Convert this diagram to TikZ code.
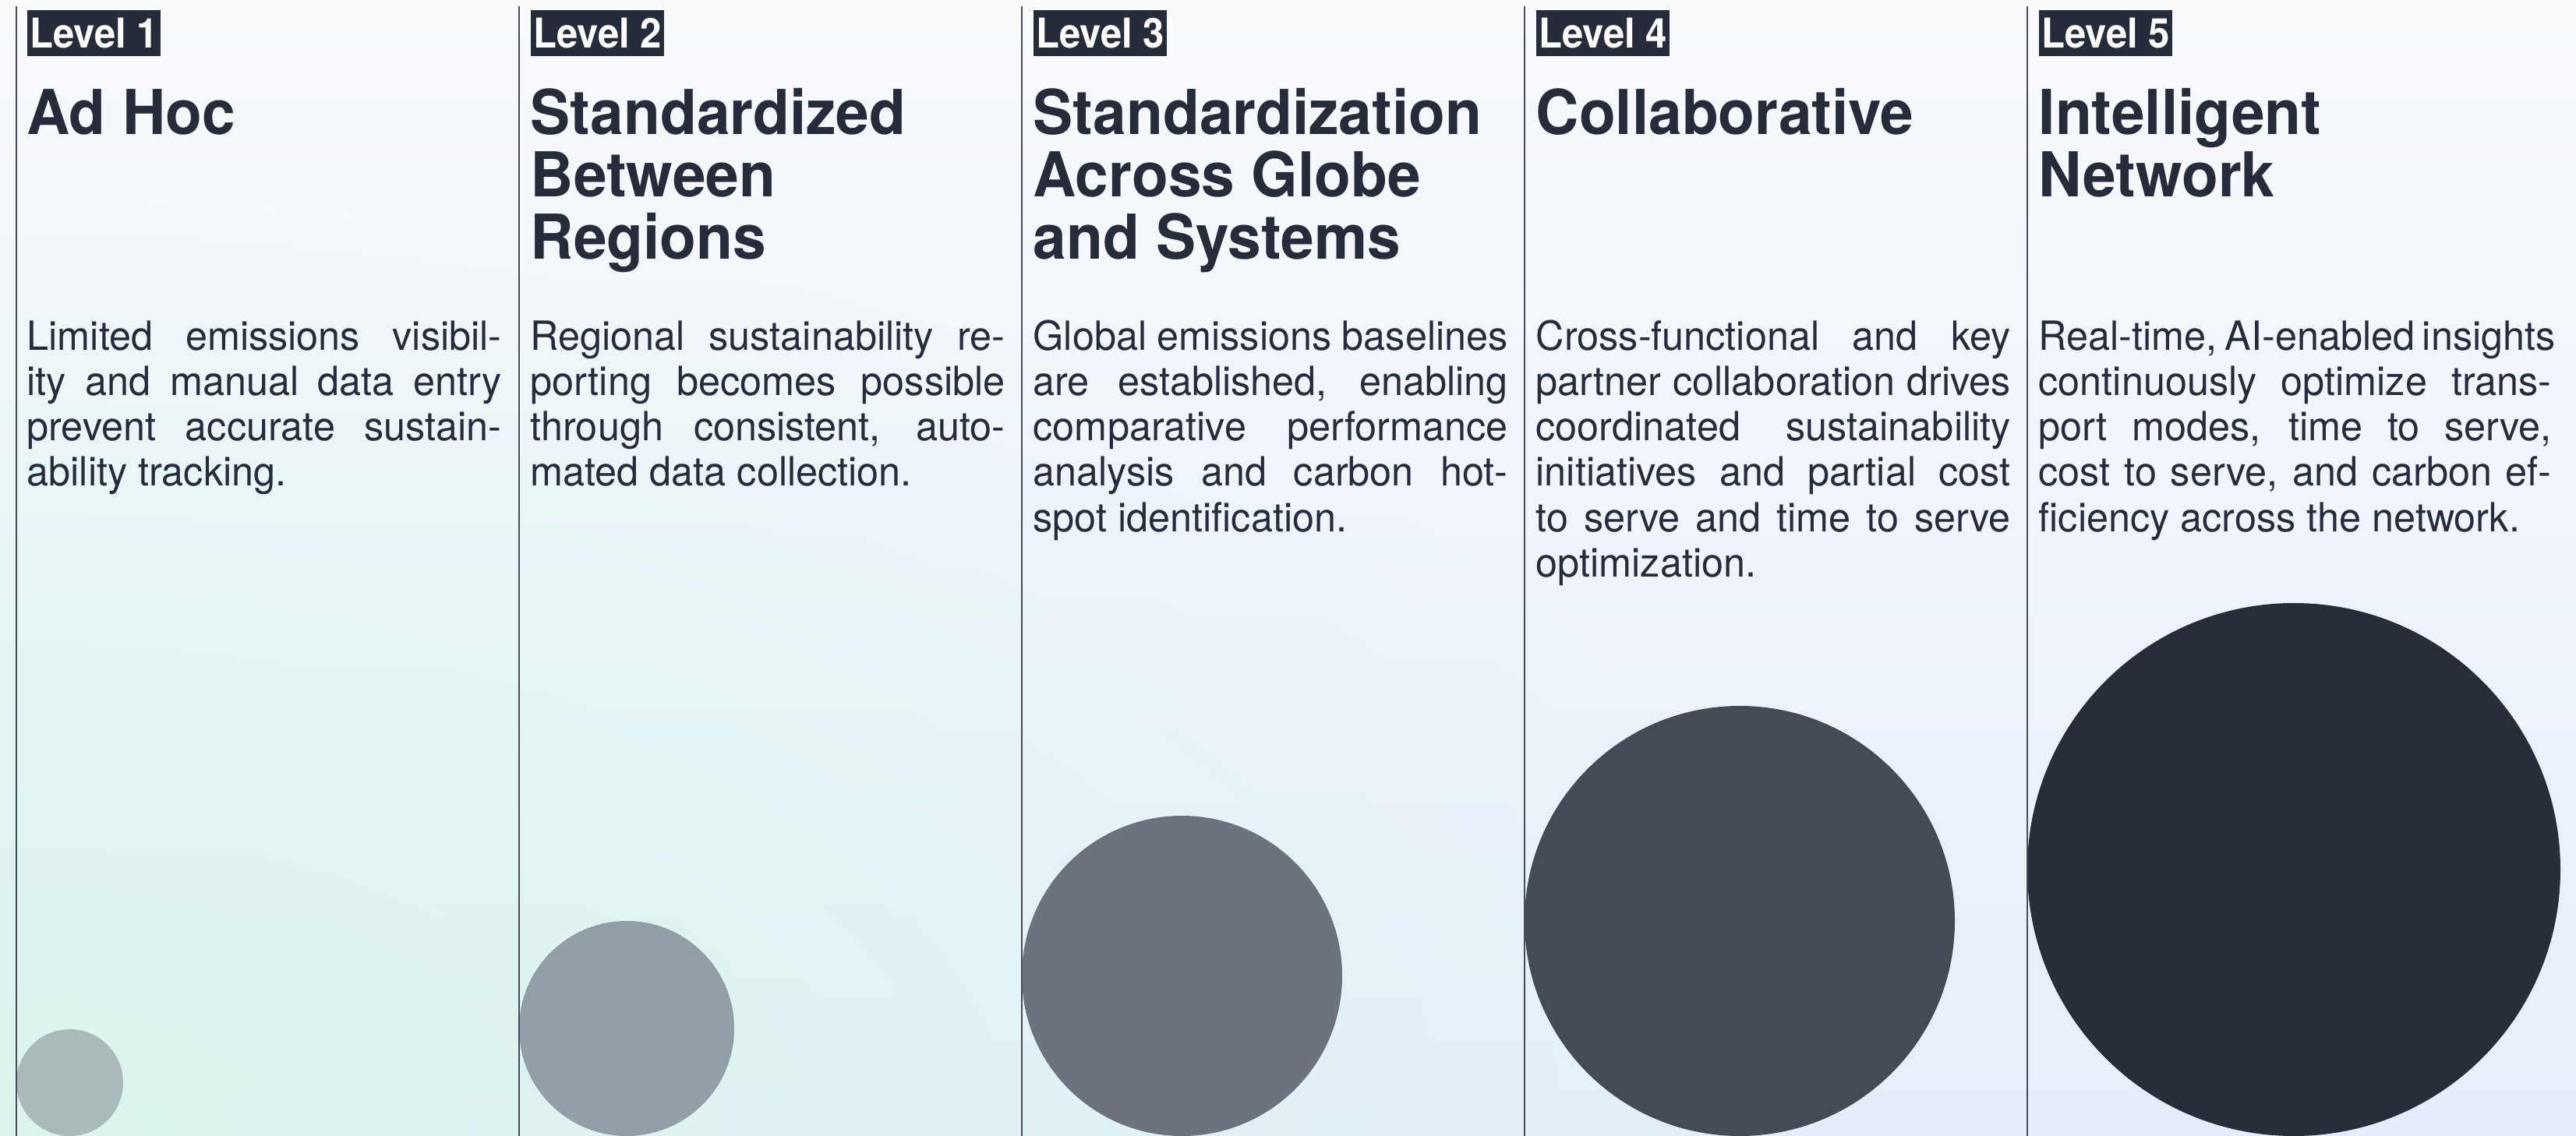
\documentclass[tikz,border=0pt]{standalone}
\usepackage{fontspec}
\setmainfont{TeX Gyre Heros}
\newfontfamily\descfont[FakeStretch=0.975]{TeX Gyre Heros}
\newfontfamily\ttlfont[FakeStretch=0.965]{TeX Gyre Heros}
\newfontfamily\lvlfont[FakeStretch=0.93]{TeX Gyre Heros}
\usetikzlibrary{fadings}
\definecolor{ink}{HTML}{262C39}
\definecolor{bgtop}{HTML}{F8FAFC}
\definecolor{bgbot}{HTML}{E6EEFB}
\definecolor{mint}{HTML}{DBF6EE}
\definecolor{cA}{HTML}{AAB9B9}
\definecolor{cB}{HTML}{939FA6}
\definecolor{cC}{HTML}{6C737D}
\definecolor{cD}{HTML}{454B55}
\definecolor{cE}{HTML}{272D39}
\tikzfading[name=blfade, inner color=transparent!0, outer color=transparent!100]
\newcommand\jline[1]{\makebox[\linewidth][s]{#1}\par}
\newcommand\dsc[2]{\parbox[t]{#1}{\parindent=0pt\parskip=0pt\descfont\fontsize{14.7}{16.59}\selectfont #2}}
\newcommand\ttltext[1]{\parbox[t]{6.2cm}{\raggedright\ttlfont\bfseries\fontsize{22.6}{22.76}\selectfont #1}}
\tikzset{
  lvl/.style={fill=ink, text=white, font=\lvlfont\bfseries\fontsize{15}{15}\selectfont, inner xsep=0.035cm, inner ysep=0pt, minimum height=0.59cm, text height=0.38cm, text depth=0pt, anchor=north west},
  ttl/.style={text=ink, inner sep=0pt, anchor=base west},
  desc/.style={text=ink, inner sep=0pt, anchor=base west},
  colline/.style={draw=ink!85, line width=0.6pt},
  disc/.style={circle, inner sep=0pt, draw=none}
}
\begin{document}
\begin{tikzpicture}[x=1cm,y=1cm]
\useasboundingbox (0,0) rectangle (33.05,-14.58);
% background
\shade[top color=bgtop, bottom color=bgbot] (0,0) rectangle (33.05,-14.58);
\begin{scope}
\clip (0,0) rectangle (33.05,-14.58);
\fill[mint, path fading=blfade] (0,-14.58) ellipse (24 and 12);
\end{scope}
% circles
\node[disc, fill=cA, minimum size=1.37cm] (circ1) at (0.895,-13.895) {};
\node[disc, fill=cB, minimum size=2.76cm] (circ2) at (8.04,-13.20) {};
\node[disc, fill=cC, minimum size=4.11cm] (circ3) at (15.165,-12.525) {};
\node[disc, fill=cD, minimum size=5.52cm] (circ4) at (22.32,-11.82) {};
\node[disc, fill=cE, minimum size=6.84cm] (circ5) at (29.43,-11.16) {};
% column lines
\coordinate (t1) at (0.21,-0.08);  \coordinate (b1) at (0.21,-14.58);
\coordinate (t2) at (6.66,-0.08);  \coordinate (b2) at (6.66,-14.58);
\coordinate (t3) at (13.11,-0.08); \coordinate (b3) at (13.11,-14.58);
\coordinate (t4) at (19.56,-0.08); \coordinate (b4) at (19.56,-14.58);
\coordinate (t5) at (26.01,-0.08); \coordinate (b5) at (26.01,-14.58);
\draw[colline] (t1) -- (b1);
\draw[colline] (t2) -- (b2);
\draw[colline] (t3) -- (b3);
\draw[colline] (t4) -- (b4);
\draw[colline] (t5) -- (b5);
% labels
\node[lvl] (lab1) at (0.34,-0.12) {Level 1};
\node[lvl] (lab2) at (6.80,-0.12) {Level 2};
\node[lvl] (lab3) at (13.25,-0.12) {Level 3};
\node[lvl] (lab4) at (19.70,-0.12) {Level 4};
\node[lvl] (lab5) at (26.15,-0.12) {Level 5};
% titles
\node[ttl] (ttl1) at (0.34,-1.73) {\ttltext{Ad Hoc}};
\node[ttl] (ttl2) at (6.80,-1.73) {\ttltext{Standardized\\Between\\Regions}};
\node[ttl] (ttl3) at (13.25,-1.73) {\ttltext{Standardization\\Across Globe\\and Systems}};
\node[ttl] (ttl4) at (19.70,-1.73) {\ttltext{Collaborative}};
\node[ttl] (ttl5) at (26.15,-1.73) {\ttltext{Intelligent\\Network}};
% descriptions
\node[desc] (dsc1) at (0.34,-4.49) {\dsc{6.09cm}{%
\jline{Limited emissions visibil-}
\jline{ity and manual data entry}
\jline{prevent accurate sustain-}
ability tracking.}};
\node[desc] (dsc2) at (6.80,-4.49) {\dsc{6.09cm}{%
\jline{Regional sustainability re-}
\jline{porting becomes possible}
\jline{through consistent, auto-}
mated data collection.}};
\node[desc] (dsc3) at (13.25,-4.49) {\dsc{6.09cm}{%
\jline{Global emissions baselines}
\jline{are established, enabling}
\jline{comparative performance}
\jline{analysis and carbon hot-}
spot identification.}};
\node[desc] (dsc4) at (19.70,-4.49) {\dsc{6.09cm}{%
\jline{Cross-functional and key}
\jline{partner collaboration drives}
\jline{coordinated sustainability}
\jline{initiatives and partial cost}
\jline{to serve and time to serve}
optimization.}};
\node[desc] (dsc5) at (26.15,-4.49) {\dsc{6.58cm}{%
\jline{Real-time, AI-enabled insights}
\jline{continuously optimize trans-}
\jline{port modes, time to serve,}
\jline{cost to serve, and carbon ef-}
ficiency across the network.}};
\end{tikzpicture}
\end{document}
